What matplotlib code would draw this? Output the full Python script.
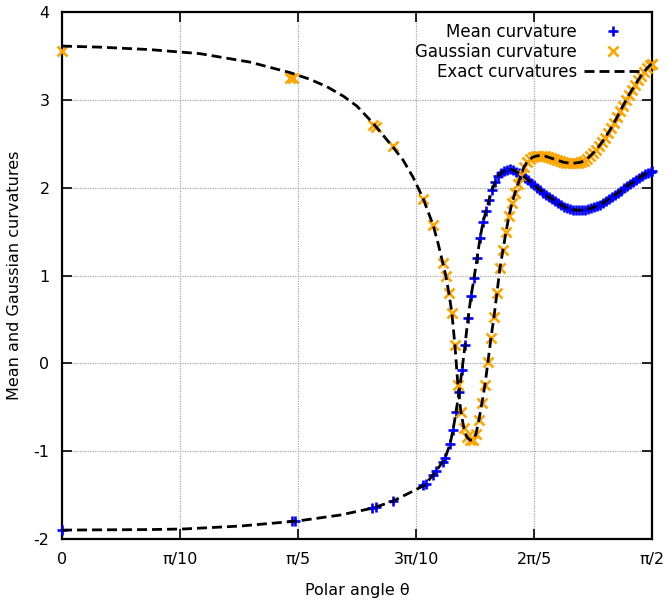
import numpy as np
import matplotlib
matplotlib.use("Agg")
import matplotlib.pyplot as plt
from matplotlib import ticker

# exact mean curvature, sampled along the polar angle
theta_H = [0.000, 0.101, 0.234, 0.325, 0.474, 0.626, 0.740, 0.828, 0.881, 0.9345,
           0.966, 0.998, 1.020, 1.033, 1.041, 1.049, 1.057, 1.065, 1.073, 1.081,
           1.089, 1.097, 1.105, 1.113, 1.121, 1.129, 1.137, 1.145, 1.153, 1.161,
           1.169, 1.177, 1.185, 1.193, 1.201, 1.209, 1.217, 1.225, 1.233, 1.241,
           1.249, 1.257, 1.265, 1.273, 1.281, 1.289, 1.297, 1.305, 1.313, 1.321,
           1.329, 1.337, 1.345, 1.353, 1.361, 1.369, 1.377, 1.384, 1.392, 1.400,
           1.408, 1.416, 1.424, 1.432, 1.440, 1.448, 1.456, 1.464, 1.472, 1.480,
           1.488, 1.496, 1.504, 1.512, 1.520, 1.528, 1.536, 1.544, 1.552, 1.560,
           1.568, 1.5708]
H_exact = [-1.898, -1.895, -1.892, -1.885, -1.852, -1.795, -1.727, -1.647, -1.568, -1.454,
           -1.385, -1.215, -1.078, -0.919, -0.759, -0.554, -0.327, -0.076, 0.209, 0.516,
           0.766, 0.971, 1.199, 1.427, 1.609, 1.734, 1.859, 1.973, 2.064, 2.133,
           2.167, 2.190, 2.207, 2.212, 2.201, 2.184, 2.167, 2.144, 2.116, 2.087,
           2.059, 2.030, 2.002, 1.973, 1.945, 1.916, 1.894, 1.871, 1.848, 1.825,
           1.803, 1.785, 1.768, 1.757, 1.751, 1.746, 1.746, 1.746, 1.751, 1.757,
           1.768, 1.780, 1.791, 1.808, 1.825, 1.848, 1.871, 1.894, 1.916, 1.939,
           1.968, 1.996, 2.019, 2.042, 2.064, 2.087, 2.110, 2.133, 2.156, 2.173,
           2.184, 2.190]

# exact gaussian curvature
theta_K = [0.000, 0.101, 0.234, 0.367, 0.500, 0.607, 0.660, 0.7055, 0.750, 0.785,
           0.828, 0.881, 0.908, 0.9345, 0.961, 0.988, 1.001, 1.014, 1.022, 1.030,
           1.038, 1.046, 1.054, 1.062, 1.070, 1.078, 1.086, 1.094, 1.102, 1.110,
           1.118, 1.126, 1.134, 1.142, 1.150, 1.158, 1.166, 1.174, 1.182, 1.190,
           1.198, 1.206, 1.214, 1.222, 1.230, 1.238, 1.246, 1.254, 1.262, 1.270,
           1.278, 1.286, 1.294, 1.302, 1.310, 1.318, 1.326, 1.334, 1.342, 1.350,
           1.358, 1.366, 1.374, 1.382, 1.390, 1.398, 1.406, 1.414, 1.422, 1.430,
           1.438, 1.446, 1.454, 1.462, 1.470, 1.478, 1.486, 1.494, 1.502, 1.510,
           1.518, 1.526, 1.534, 1.542, 1.550, 1.558, 1.566, 1.5708]
K_exact = [3.613, 3.601, 3.573, 3.527, 3.431, 3.311, 3.235, 3.150, 3.040, 2.930,
           2.736, 2.463, 2.315, 2.121, 1.882, 1.575, 1.370, 1.142, 0.994, 0.801,
           0.573, 0.209, -0.247, -0.554, -0.736, -0.839, -0.873, -0.873, -0.805, -0.645,
           -0.452, -0.247, 0.015, 0.288, 0.527, 0.801, 1.085, 1.290, 1.495, 1.677,
           1.825, 1.939, 2.042, 2.144, 2.235, 2.292, 2.326, 2.349, 2.360, 2.366,
           2.366, 2.360, 2.349, 2.338, 2.326, 2.315, 2.304, 2.292, 2.286, 2.281,
           2.281, 2.281, 2.286, 2.292, 2.309, 2.332, 2.360, 2.395, 2.434, 2.474,
           2.520, 2.571, 2.622, 2.679, 2.742, 2.804, 2.873, 2.935, 2.998, 3.061,
           3.118, 3.169, 3.226, 3.277, 3.323, 3.362, 3.397, 3.414]

# computed curvatures on the coarse part of the mesh
theta_H_pts = [0.000, 0.612, 0.620, 0.825, 0.836, 0.881, 0.961, 0.969, 0.988, 0.996, 1.014]
H_pts = [-1.90, -1.80, -1.80, -1.65, -1.64, -1.57, -1.39, -1.37, -1.27, -1.22, -1.12]
theta_K_pts = [0.000, 0.607, 0.615, 0.827, 0.836, 0.881, 0.961, 0.988]
K_pts = [3.56, 3.25, 3.25, 2.71, 2.69, 2.47, 1.87, 1.58]

xticks = [0, np.pi / 10, np.pi / 5, 3 * np.pi / 10, 2 * np.pi / 5, np.pi / 2]
xticklabels = ['0', 'π/10', 'π/5', '3π/10', '2π/5', 'π/2']
yticks = [-2, -1, 0, 1, 2, 3, 4]

blue = '#0000ff'
orange = '#ffa500'
fs = 11.5

fig = plt.figure(figsize=(6.67, 6.05), dpi=100)
ax = fig.add_axes([0.093, 0.109, 0.8845, 0.871])

# fine part of the mesh: every sampled point from theta ~ 1.02 on carries a marker
th_H = np.array(theta_H); th_K = np.array(theta_K)
mH = th_H >= 1.02
mK = th_K >= 1.013
H_mark_t = np.concatenate([theta_H_pts, th_H[mH]])
H_mark_v = np.concatenate([H_pts, np.array(H_exact)[mH]])
K_mark_t = np.concatenate([theta_K_pts, th_K[mK]])
K_mark_v = np.concatenate([K_pts, np.array(K_exact)[mK]])

ax.plot(H_mark_t, H_mark_v, '+', color=blue, ms=7.5, mew=1.9,
        label='Mean curvature', clip_on=False, zorder=3)
ax.plot(K_mark_t, K_mark_v, 'x', color=orange, ms=7, mew=1.9,
        label='Gaussian curvature', clip_on=False, zorder=3)
ax.plot(theta_H, H_exact, color='k', lw=2.0, dashes=(3.6, 1.8),
        label='Exact curvatures', zorder=4)
ax.plot(theta_K, K_exact, color='k', lw=2.0, dashes=(3.6, 1.8), zorder=4)

ax.set_xlim(0, np.pi / 2)
ax.set_ylim(-2, 4)
ax.set_xticks(xticks)
ax.set_xticklabels(xticklabels)
ax.set_yticks(yticks)
ax.yaxis.set_major_formatter(ticker.FuncFormatter(lambda v, p: '%d' % v))

ax.grid(True, color='#a8a8a8', linestyle=(0, (1, 1)), lw=0.9)
ax.tick_params(direction='in', length=7, width=1.2, top=True, right=True,
               labelsize=fs, pad=9, colors='k')
for sp in ax.spines.values():
    sp.set_linewidth(1.6)

ax.set_xlabel('Polar angle θ', fontsize=fs, labelpad=12)
ax.set_ylabel('Mean and Gaussian curvatures', fontsize=fs, labelpad=8)

ax.legend(loc='upper right', markerfirst=False, frameon=False, fontsize=12,
          handlelength=3.4, handletextpad=0.45, labelspacing=0.12,
          borderaxespad=0.25, bbox_to_anchor=(1.0, 1.0))

fig.savefig('out.png', dpi=100)
